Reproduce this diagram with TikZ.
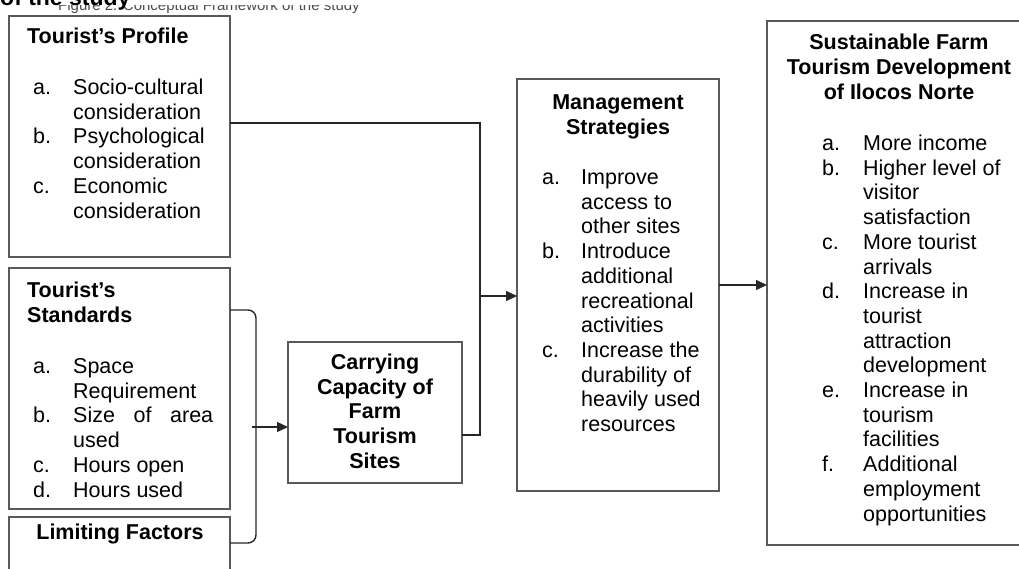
\documentclass[tikz,border=0pt]{standalone}
\usepackage{fontspec}
\setmainfont{Liberation Sans}
\usetikzlibrary{arrows.meta}
\newcommand\itemlbl[1]{\makebox[40pt][l]{#1}}
\begin{document}
\begin{tikzpicture}[x=1pt,y=-1pt,
  boxstyle/.style={draw=black!65, line width=1.3pt, inner sep=0pt, outer sep=0pt, anchor=north west},
  conn/.style={draw=black!85, line width=1.4pt},
  arr/.style={conn, -{Triangle[length=11pt,width=10pt]}},
  body/.style={inner sep=0pt, font=\fontsize{21.5}{24.7}\selectfont, anchor=base west},
  head/.style={inner sep=0pt, font=\fontsize{21.5}{24.7}\selectfont\bfseries},
]
\useasboundingbox (0,0) rectangle (1019,568);
\clip (0,0) rectangle (1019,568);

% heading lines, running off the top edge
\begin{scope}
  \clip (0,5.5) rectangle (400,20);
  \node[anchor=base west, inner sep=0pt, font=\fontsize{15}{15}\selectfont, text=black!70] (cap) at (58,10) {Figure 2. Conceptual Framework of the study};
\end{scope}
\node[anchor=base west, inner sep=0pt, font=\fontsize{23}{23}\selectfont\bfseries] (ttl) at (0,5) {of the study};

% boxes
\node[boxstyle, minimum width=221pt, minimum height=241pt] (profile) at (9,16) {};
\node[boxstyle, minimum width=221pt, minimum height=241pt] (std) at (9,268) {};
\node[boxstyle, minimum width=221pt, minimum height=90pt] (limit) at (9,517) {};
\node[boxstyle, minimum width=174pt, minimum height=141pt] (carry) at (288,342) {};
\node[boxstyle, minimum width=202pt, minimum height=412pt] (mgmt) at (517,79) {};
\node[boxstyle, minimum width=264pt, minimum height=524pt] (goal) at (767,21) {};

% Tourist's Profile
\node[head, anchor=base west] (profileT) at (27,43.7) {Tourist’s Profile};
\node[body] (profileL) at (33,94.5) {\begin{tabular}[t]{@{}l@{}l@{}}
\itemlbl{a.} & Socio-cultural\\
 & consideration\\
\itemlbl{b.} & Psychological\\
 & consideration\\
\itemlbl{c.} & Economic\\
 & consideration
\end{tabular}};

% Tourist's Standards
\node[head, anchor=base west] (stdT) at (27,297.5) {\begin{tabular}[t]{@{}l@{}}
Tourist’s\\ Standards\end{tabular}};
\node[body] (stdL) at (33,373.5) {\begin{tabular}[t]{@{}l@{}l@{}}
\itemlbl{a.} & Space\\
 & Requirement\\
\itemlbl{b.} & \makebox[140pt][s]{Size of area}\\
 & used\\
\itemlbl{c.} & Hours open\\
\itemlbl{d.} & Hours used
\end{tabular}};

% Limiting Factors
\node[head, anchor=base] (limitT) at (120,539.7) {Limiting Factors};

% Carrying Capacity
\node[head, anchor=base] (carryT) at (375,369.5) {\begin{tabular}[t]{@{}c@{}}
Carrying\\ Capacity of\\ Farm\\ Tourism\\ Sites\end{tabular}};

% Management Strategies
\node[head, anchor=base] (mgmtT) at (618,109.7) {\begin{tabular}[t]{@{}c@{}}
Management\\ Strategies\end{tabular}};
\node[body] (mgmtL) at (542,184.5) {\begin{tabular}[t]{@{}l@{}l@{}}
\makebox[39pt][l]{a.} & Improve\\
 & access to\\
 & other sites\\
\makebox[39pt][l]{b.} & Introduce\\
 & additional\\
 & recreational\\
 & activities\\
\makebox[39pt][l]{c.} & Increase the\\
 & durability of\\
 & heavily used\\
 & resources
\end{tabular}};

% Sustainable Farm Tourism Development
\node[head, anchor=base] (goalT) at (899,49.7) {\begin{tabular}[t]{@{}c@{}}
Sustainable Farm\\ Tourism Development\\ of Ilocos Norte\end{tabular}};
\node[body] (goalL) at (822,150.5) {\begin{tabular}[t]{@{}l@{}l@{}}
\makebox[41pt][l]{a.} & More income\\
\makebox[41pt][l]{b.} & Higher level of\\
 & visitor\\
 & satisfaction\\
\makebox[41pt][l]{c.} & More tourist\\
 & arrivals\\
\makebox[41pt][l]{d.} & Increase in\\
 & tourist\\
 & attraction\\
 & development\\
\makebox[41pt][l]{e.} & Increase in\\
 & tourism\\
 & facilities\\
\makebox[41pt][l]{f.} & Additional\\
 & employment\\
 & opportunities
\end{tabular}};

% connectors
\coordinate (pOut) at (profile.east |- 0,123);
\coordinate (cOut) at (carry.east |- 0,435);
\coordinate (join) at (480,296);
\coordinate (braceTip) at (252,427);

\draw[conn] (pOut) -| (join);
\draw[conn] (cOut) -| (join);
\draw[arr] (join) -- (mgmt.west |- join);
\draw[arr] (mgmt.east) -- (goal.west |- mgmt.east);

% brace joining standards and limiting factors
\draw[conn] (std.east |- 0,310) -- (248,310) to[out=0,in=90] (256,318)
  -- (256,535) to[out=-90,in=0] (248,543) -- (limit.east |- 0,543);
\draw[arr] (braceTip) -- (carry.west |- braceTip);
\end{tikzpicture}
\end{document}
